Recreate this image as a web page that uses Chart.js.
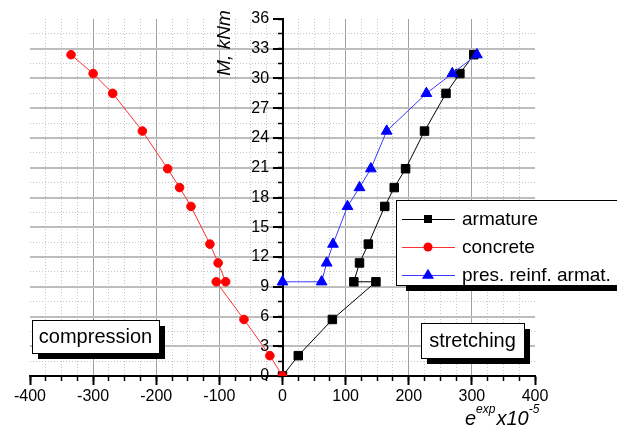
<!DOCTYPE html>
<html>
<head>
<meta charset="utf-8">
<script src="https://cdn.jsdelivr.net/npm/chart.js@4.4.0/dist/chart.umd.min.js"></script>
<style>
  body { margin: 0; background: #fff; }
  canvas { display: block; }
</style>
</head>
<body>
<canvas id="myChart" width="617" height="430"></canvas>
<script>
// tick labels
const xTicks = [-400, -300, -200, -100, 0, 100, 200, 300, 400];
const yTicks = [0, 3, 6, 9, 12, 15, 18, 21, 24, 27, 30, 33, 36];

// series names
const seriesNames = ['armature', 'concrete', 'pres. reinf. armat.'];

// strain e x10^-5 and moment M, kNm
const armatureStrain = [0, 25, 79, 148, 113, 122, 136, 162, 177, 195, 225, 259, 281, 303];
const armatureMoment = [0, 2.05, 5.7, 9.5, 9.5, 11.4, 13.3, 17.1, 19.0, 20.9, 24.7, 28.5, 30.5, 32.4];

const concreteStrain = [0, -20, -61, -105, -90, -102, -115, -145, -163, -182, -222, -269, -300, -335];
const concreteMoment = [0, 2.05, 5.7, 9.5, 9.5, 11.4, 13.3, 17.1, 19.0, 20.9, 24.7, 28.5, 30.5, 32.4];

const presStrain = [0, 62, 70, 80, 103, 122, 140, 165, 228, 269, 308];
const presMoment = [9.5, 9.5, 11.4, 13.3, 17.1, 19.0, 20.9, 24.7, 28.5, 30.5, 32.4];

const fontFamily = "'Liberation Sans', Arial, sans-serif";
const clear = 'rgba(0,0,0,0)';

const toPoints = (xs, ys) => xs.map((x, i) => ({ x: x, y: ys[i] }));
const isMultiple = (v, step) => Math.abs(v / step - Math.round(v / step)) < 1e-6;

const drawMarker = (c, style, x, y, r) => {
    c.beginPath();
    if (style === 'rect') {
        c.rect(x - r, y - r, 2 * r, 2 * r);
    } else if (style === 'triangle') {
        c.moveTo(x, y - r * 1.15);
        c.lineTo(x + r * 1.1, y + r * 0.7);
        c.lineTo(x - r * 1.1, y + r * 0.7);
        c.closePath();
    } else {
        c.arc(x, y, r, 0, Math.PI * 2);
    }
    c.fill();
};

const drawTextBox = (c, text, x, y, w, h) => {
    c.fillStyle = '#000';
    c.fillRect(x + 6, y + 6, w, h);
    c.fillStyle = '#fff';
    c.fillRect(x, y, w, h);
    c.strokeStyle = '#000';
    c.lineWidth = 1;
    c.strokeRect(x + 0.5, y + 0.5, w, h);
    c.fillStyle = '#000';
    c.font = '20px ' + fontFamily;
    c.textAlign = 'center';
    c.textBaseline = 'middle';
    c.fillText(text, x + w / 2, y + h / 2 + 1);
};

const decorations = {
    id: 'decorations',
    afterDraw(chart) {
        const c = chart.ctx;
        c.save();

        drawTextBox(c, 'compression', 32, 320, 127, 33);
        drawTextBox(c, 'stretching', 421, 323, 103, 35);

        // legend box
        const lx = 396, ly = 200, lw = 240, lh = 85;
        c.fillStyle = '#000';
        c.fillRect(lx + 10, ly + 6, lw, lh);
        c.fillStyle = '#fff';
        c.fillRect(lx, ly, lw, lh);
        c.strokeStyle = '#000';
        c.lineWidth = 1;
        c.strokeRect(lx + 0.5, ly + 0.5, lw, lh);
        const rowY = [219, 247, 275];
        const markerSize = [4, 4.5, 5.5];
        chart.data.datasets.forEach((ds, i) => {
            c.strokeStyle = ds.borderColor;
            c.lineWidth = 1;
            c.beginPath();
            c.moveTo(402, rowY[i] + 0.5);
            c.lineTo(455, rowY[i] + 0.5);
            c.stroke();
            c.fillStyle = ds.backgroundColor;
            drawMarker(c, ds.pointStyle, 428, rowY[i], markerSize[i]);
            c.fillStyle = '#000';
            c.font = '19px ' + fontFamily;
            c.textAlign = 'left';
            c.textBaseline = 'middle';
            c.fillText(ds.label, 462, rowY[i] + 1);
        });

        // y axis title
        c.save();
        c.translate(225, 43);
        c.rotate(-Math.PI / 2);
        c.fillStyle = '#000';
        c.font = 'italic 19px ' + fontFamily;
        c.textAlign = 'center';
        c.textBaseline = 'middle';
        c.fillText('M, kNm', 0, 0);
        c.restore();

        // x axis title e^exp x10^-5
        c.fillStyle = '#000';
        c.textAlign = 'left';
        c.textBaseline = 'alphabetic';
        let tx = 465;
        const parts = [['e', 20, 425], ['exp', 12, 413], ['x10', 20, 425], ['-5', 12, 413]];
        parts.forEach(p => {
            c.font = 'italic ' + p[1] + 'px ' + fontFamily;
            c.fillText(p[0], tx, p[2]);
            tx += c.measureText(p[0]).width + (p[1] > 14 ? 0 : 1);
        });

        c.restore();
    }
};

const ctx = document.getElementById('myChart').getContext('2d');

const myChart = new Chart(ctx, {
    type: 'scatter',
    data: {
        datasets: [
            {
                label: seriesNames[0],
                data: toPoints(armatureStrain, armatureMoment),
                showLine: true,
                borderColor: '#000000',
                backgroundColor: '#000000',
                borderWidth: 1,
                pointStyle: 'rect',
                pointRadius: 6,
                pointBorderWidth: 1,
                order: 3
            },
            {
                label: seriesNames[1],
                data: toPoints(concreteStrain, concreteMoment),
                showLine: true,
                borderColor: '#ff3030',
                backgroundColor: '#ff0000',
                pointBorderColor: '#ff0000',
                borderWidth: 1,
                pointStyle: 'circle',
                pointRadius: 4.3,
                pointBorderWidth: 1,
                order: 2
            },
            {
                label: seriesNames[2],
                data: toPoints(presStrain, presMoment),
                showLine: true,
                borderColor: '#3a3aff',
                backgroundColor: '#0000ff',
                pointBorderColor: '#0000ff',
                borderWidth: 1,
                pointStyle: 'triangle',
                pointRadius: 6.2,
                pointBorderWidth: 1,
                order: 1
            }
        ]
    },
    options: {
        responsive: false,
        animation: false,
        layout: { padding: { left: 30, right: 82, top: 19, bottom: 54 } },
        plugins: { legend: { display: false }, tooltip: { enabled: false } },
        scales: {
            xMinor: {
                type: 'linear', axis: 'x', position: { y: 0 },
                min: -400, max: 400,
                ticks: { stepSize: 25, display: false },
                grid: {
                    color: c => isMultiple(c.tick.value, 100) ? clear : '#c6c6c6',
                    lineWidth: 1, tickLength: 5, tickColor: '#000', tickWidth: 1.5
                },
                border: { display: false, dash: [1, 2] }
            },
            yMinor: {
                type: 'linear', axis: 'y', position: { x: 0 },
                min: 0, max: 36,
                ticks: { stepSize: 1.5, display: false },
                grid: {
                    color: c => isMultiple(c.tick.value, 3) ? clear : '#c6c6c6',
                    lineWidth: 1, tickLength: 5, tickColor: '#000', tickWidth: 1.5
                },
                border: { display: false, dash: [1, 2] }
            },
            x: {
                type: 'linear', position: { y: 0 },
                min: -400, max: 400,
                afterBuildTicks: scale => { scale.ticks = xTicks.map(v => ({ value: v })); },
                ticks: {
                    color: '#000', padding: 3,
                    font: { family: fontFamily, size: 16 },
                    callback: v => String(v)
                },
                grid: {
                    color: c => (c.tick.value === 0 || Math.abs(c.tick.value) === 400) ? clear : '#a0a0a0',
                    lineWidth: 1, tickLength: 8, tickColor: '#000', tickWidth: 2
                },
                border: { display: true, color: '#000', width: 2 }
            },
            y: {
                type: 'linear', position: { x: 0 },
                min: 0, max: 36,
                afterBuildTicks: scale => { scale.ticks = yTicks.map(v => ({ value: v })); },
                ticks: {
                    color: '#000', padding: 5,
                    font: { family: fontFamily, size: 16 },
                    // labels of a centred axis sit on the axis line, pad them off with spaces
                    callback: v => String(v) + '   '
                },
                grid: {
                    color: c => (c.tick.value === 0 || c.tick.value === 36) ? clear : '#bdbdbd',
                    lineWidth: 2, tickLength: 9, tickColor: '#000', tickWidth: 2
                },
                border: { display: true, color: '#000', width: 2 }
            }
        }
    },
    plugins: [decorations]
});
</script>
</body>
</html>
